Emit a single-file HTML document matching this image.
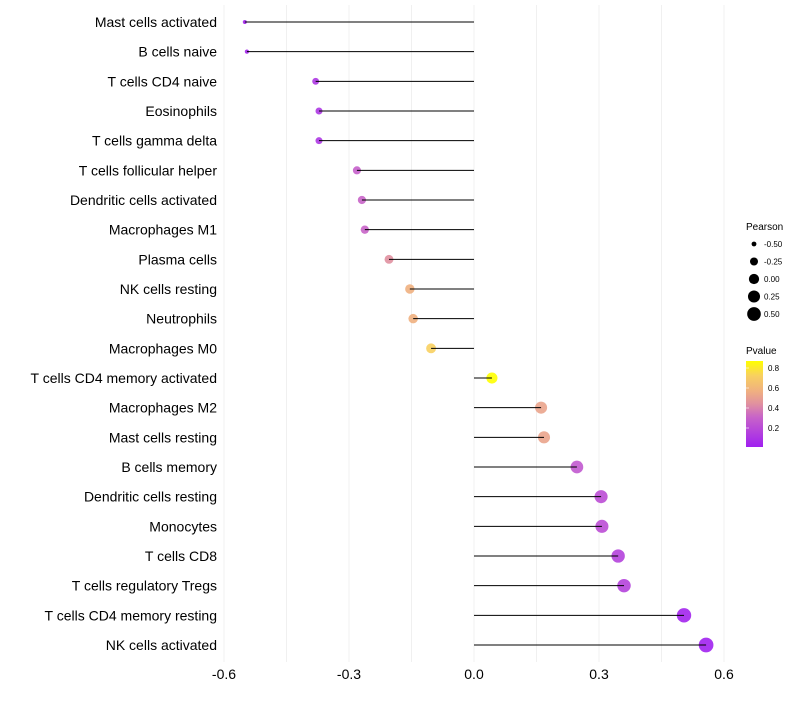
<!DOCTYPE html>
<html><head><meta charset="utf-8"><style>
body{margin:0;background:#fff;font-family:"Liberation Sans",sans-serif}
</style></head><body>
<svg id="c" width="800" height="700" xmlns="http://www.w3.org/2000/svg">
<defs><linearGradient id="pg" x1="0" y1="1" x2="0" y2="0">
<stop offset="0" stop-color="#A020F0"/><stop offset="0.35" stop-color="#C864C8"/><stop offset="0.5" stop-color="#E090A0"/><stop offset="0.65" stop-color="#F0B080"/><stop offset="0.83" stop-color="#F8D060"/><stop offset="1" stop-color="#FFFF00"/></linearGradient></defs>
</svg>
<script>
const categories=["Mast cells activated","B cells naive","T cells CD4 naive","Eosinophils","T cells gamma delta","T cells follicular helper","Dendritic cells activated","Macrophages M1","Plasma cells","NK cells resting","Neutrophils","Macrophages M0","T cells CD4 memory activated","Macrophages M2","Mast cells resting","B cells memory","Dendritic cells resting","Monocytes","T cells CD8","T cells regulatory  Tregs ","T cells CD4 memory resting","NK cells activated"];
const pearson=[-0.55,-0.545,-0.38,-0.372,-0.372,-0.281,-0.269,-0.262,-0.204,-0.154,-0.146,-0.103,0.043,0.161,0.168,0.247,0.305,0.307,0.346,0.36,0.504,0.557];
const pvalue=[0.02,0.02,0.1,0.1,0.1,0.28,0.3,0.3,0.42,0.55,0.55,0.72,0.87,0.5,0.5,0.25,0.2,0.2,0.15,0.15,0.02,0.01];
const xTicks=[-0.6,-0.3,0,0.3,0.6];
const gridVals=[-0.6,-0.45,-0.3,-0.15,0,0.15,0.3,0.45,0.6];
const sizeLegend=[-0.5,-0.25,0,0.25,0.5];
const pLegend=[0.2,0.4,0.6,0.8];
const NS="http://www.w3.org/2000/svg",svg=document.getElementById('c');
const X=v=>474+v*416.67, Y=i=>22+i*29.667, R=v=>Math.sqrt(Math.max(2,29+45*v));
function lerp(a,b,t){return a.map((x,i)=>Math.round(x+(b[i]-x)*t));}
function col(p){const st=[[0,[160,32,240]],[0.3,[200,100,200]],[0.42,[224,144,160]],[0.55,[240,176,128]],[0.72,[248,208,96]],[0.87,[255,255,0]]];
 p=Math.min(0.87,Math.max(0,p));for(let i=1;i<st.length;i++){if(p<=st[i][0]){const t=(p-st[i-1][0])/(st[i][0]-st[i-1][0]);const c=lerp(st[i-1][1],st[i][1],t);return `rgb(${c})`;}}return 'rgb(255,255,0)';}
function el(t,a,txt){const e=document.createElementNS(NS,t);for(const k in a)e.setAttribute(k,a[k]);if(txt!=null)e.textContent=txt;svg.appendChild(e);return e;}
gridVals.forEach(v=>{const g=el('line',{x1:X(v),x2:X(v),y1:5,y2:662,stroke:'#f0f0f0','stroke-width':1});

});
xTicks.forEach(v=>{const t=el('text',{x:X(v),y:679,'text-anchor':'middle','font-size':14,fill:'#000'},v===0?'0.0':v.toFixed(1));

});
categories.forEach((c,i)=>{
 const t=el('text',{x:217,y:Y(i)+5,'text-anchor':'end','font-size':14,fill:'#000'},c);
 
 
 const d=el('circle',{cx:X(pearson[i]),cy:Y(i),r:R(pearson[i]),fill:col(pvalue[i]),'fill-opacity':0.9});
 
 
 const l=el('line',{x1:X(0),x2:X(pearson[i]),y1:Y(i),y2:Y(i),stroke:'#000','stroke-width':1});
 
 
});
const lt=el('text',{x:746,y:230,'font-size':10},'Pearson');


sizeLegend.forEach((v,i)=>{const y=244+i*17.5;
 const c=el('circle',{cx:754,cy:y,r:R(v)*0.95,fill:'#000'});
 
 
 const t=el('text',{x:764,y:y+3,'font-size':8},v.toFixed(2));
 
 });
const pt=el('text',{x:746,y:354,'font-size':10},'Pvalue');


const bar=el('rect',{x:746,y:361,width:17,height:86,fill:'url(#pg)'});


pLegend.forEach(v=>{const y=448-v*100;
 const t=el('text',{x:768,y:y+3,'font-size':8},v.toFixed(1));
 
 
 const k=el('line',{x1:746,x2:749,y1:y,y2:y,stroke:'#fff','stroke-opacity':0.6});
 
 });
</script>
</body></html>
